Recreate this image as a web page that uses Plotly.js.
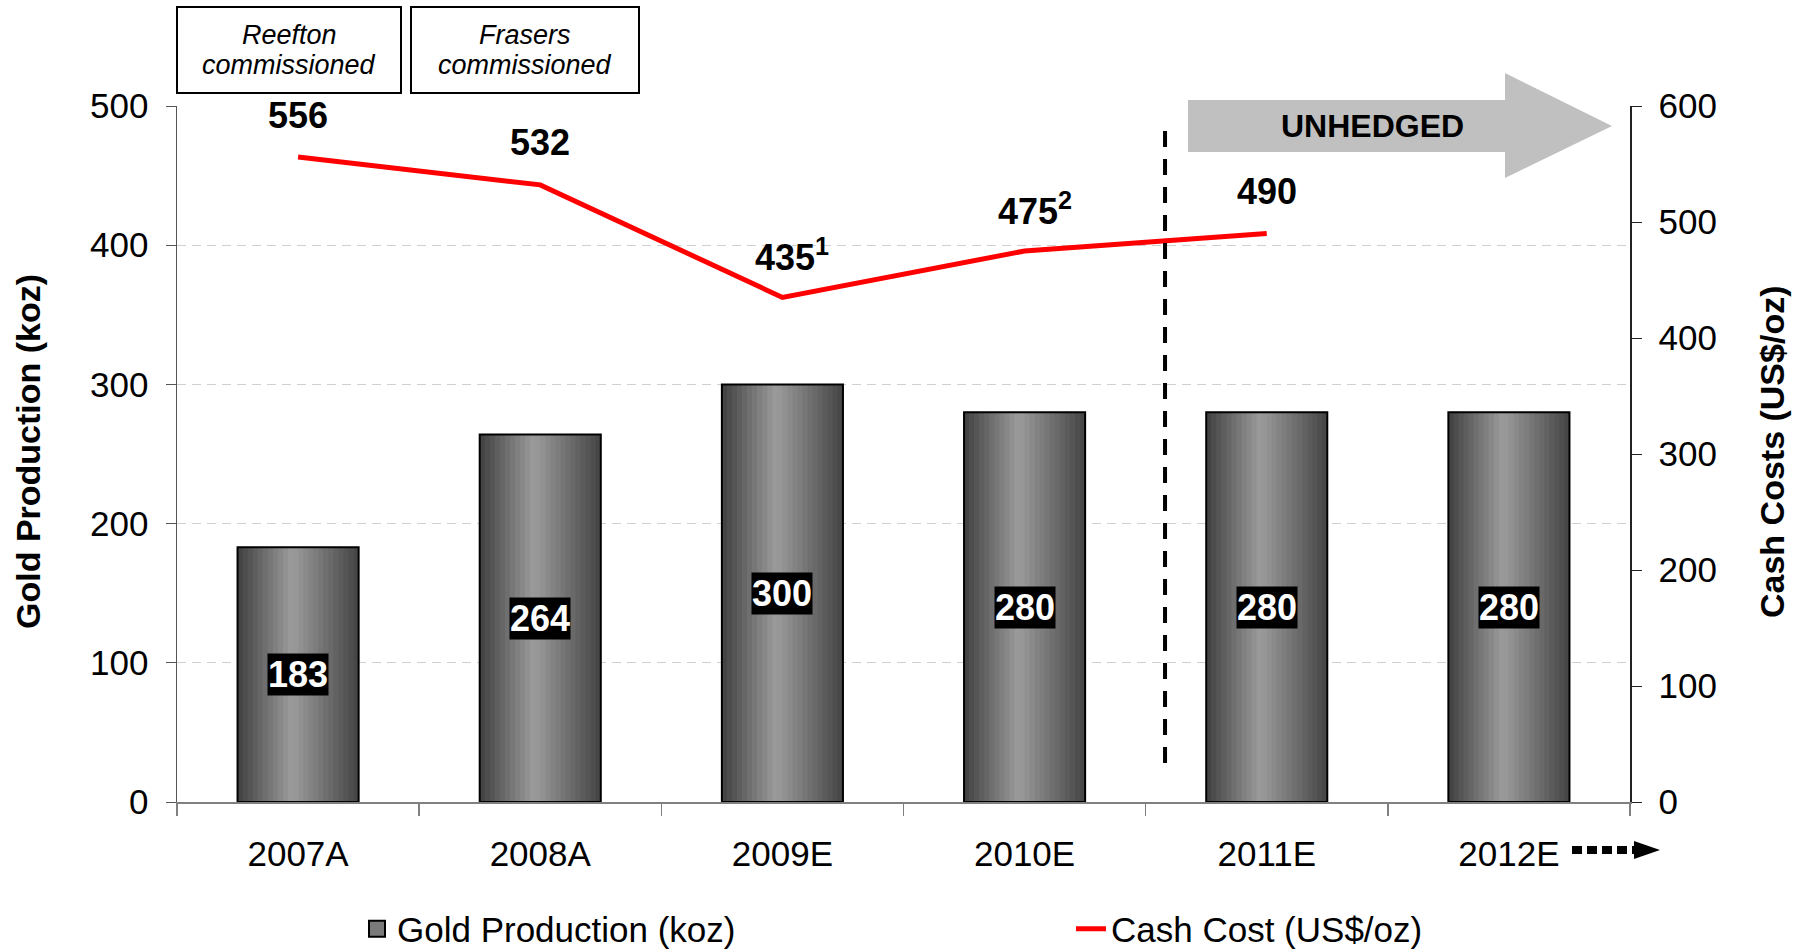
<!DOCTYPE html>
<html>
<head>
<meta charset="utf-8">
<script src="https://cdn.plot.ly/plotly-3.0.1.min.js"></script>
<style>
  html, body { margin: 0; padding: 0; background: #fff; }
  #chart { width: 1802px; height: 952px; }
</style>
</head>
<body>
<div id="chart"></div>
<script>
// data
const years = ["2007A", "2008A", "2009E", "2010E", "2011E", "2012E"];
const production = [183, 264, 300, 280, 280, 280];
const cashYears = ["2007A", "2008A", "2009E", "2010E", "2011E"];
const cashCost = [556, 532, 435, 475, 490];
const cashNotes = ["", "", "1", "2", ""];

const FONT = 'Arial, "Liberation Sans", sans-serif';

// plot area in pixels (used only for the decorations outside the data)
const W = 1802, H = 952;
const L = 177, R = 1630, T = 106, B = 802;
const px = p => (p - L) / (R - L);
const py = p => (B - p) / (B - T);

// bars: a horizontal grey gradient drawn as thin overlaid strips
const BAR_W = 0.5, STRIPS = 24;
function shade(t){
  const v = t < 0.45
    ? 0x40 + (0x9c - 0x40) * t / 0.45
    : 0x9c - (0x9c - 0x44) * (t - 0.45) / 0.55;
  const h = Math.round(v);
  return `rgb(${h},${h},${h})`;
}

const traces = [];
for (let i = 0; i < STRIPS; i++) {
  const w = BAR_W / STRIPS;
  traces.push({
    type: "bar",
    x: years,
    y: production,
    offset: -BAR_W / 2 + i * w,
    width: i === STRIPS - 1 ? w : w * 1.15,
    marker: { color: shade((i + 0.5) / STRIPS), line: { width: 0 } },
    showlegend: false,
    hoverinfo: "skip"
  });
}
// outline of each bar
traces.push({
  type: "bar",
  x: years,
  y: production,
  offset: -BAR_W / 2,
  width: BAR_W,
  marker: { color: "rgba(0,0,0,0)", line: { color: "#000", width: 2 } },
  showlegend: false,
  name: "Gold Production (koz)"
});
// legend entry for the bars
traces.push({
  type: "scatter",
  mode: "markers",
  x: [null],
  y: [null],
  name: "Gold Production (koz)",
  marker: { symbol: "square", size: 16, color: "#7a7a7a", line: { color: "#000", width: 2 } }
});
traces.push({
  type: "scatter",
  mode: "lines",
  x: cashYears,
  y: cashCost,
  yaxis: "y2",
  name: "Cash Cost (US$/oz)",
  line: { color: "#ff0000", width: 5 }
});

const annotations = [];
production.forEach((v, i) => {
  annotations.push({
    x: years[i], y: v / 2, xref: "x", yref: "y",
    xanchor: "center", yanchor: "middle",
    text: "<b>" + v + "</b>", showarrow: false,
    font: { family: FONT, size: 36, color: "#fff" },
    bgcolor: "#000", borderpad: 0
  });
});
cashCost.forEach((v, i) => {
  const note = cashNotes[i];
  annotations.push({
    x: cashYears[i], y: v, xref: "x", yref: "y2", yshift: 42,
    xanchor: "center", yanchor: "middle",
    xshift: note ? 10 : 0,
    text: "<b>" + v + (note ? "<sup>" + note + "</sup>" : "") + "</b>",
    showarrow: false,
    font: { family: FONT, size: 36, color: "#000" }
  });
});
// boxes at the top
const boxText = [["Reefton", "commissioned", 289], ["Frasers", "commissioned", 525]];
boxText.forEach(b => {
  [[b[0], 35], [b[1], 65]].forEach(line => {
    annotations.push({
      xref: "paper", yref: "paper", x: px(b[2]), y: py(line[1]),
      xanchor: "center", yanchor: "middle",
      text: "<i>" + line[0] + "</i>", showarrow: false,
      font: { family: FONT, size: 27, color: "#000" }
    });
  });
});
annotations.push({
  xref: "paper", yref: "paper", x: px(1372), y: py(126),
  xanchor: "center", yanchor: "middle",
  text: "<b>UNHEDGED</b>", showarrow: false,
  font: { family: FONT, size: 32, color: "#000" }
});
// axis titles
annotations.push({
  xref: "paper", yref: "paper", x: px(28), y: py(452),
  xanchor: "center", yanchor: "middle", textangle: -90,
  text: "<b>Gold Production (koz)</b>", showarrow: false,
  font: { family: FONT, size: 34, color: "#000" }
});
annotations.push({
  xref: "paper", yref: "paper", x: px(1772), y: py(452),
  xanchor: "center", yanchor: "middle", textangle: -90,
  text: "<b>Cash Costs (US$/oz)</b>", showarrow: false,
  font: { family: FONT, size: 34, color: "#000" }
});

const shapes = [
  { type: "rect", xref: "paper", yref: "paper", x0: px(177), x1: px(401), y0: py(93), y1: py(7),
    line: { color: "#000", width: 2 }, fillcolor: "#fff" },
  { type: "rect", xref: "paper", yref: "paper", x0: px(411), x1: px(639), y0: py(93), y1: py(7),
    line: { color: "#000", width: 2 }, fillcolor: "#fff" },
  { type: "path", xref: "paper", yref: "paper", layer: "below",
    path: `M${px(1188)},${py(100)} L${px(1505)},${py(100)} L${px(1505)},${py(73)} L${px(1612)},${py(126)} ` +
          `L${px(1505)},${py(178)} L${px(1505)},${py(152)} L${px(1188)},${py(152)} Z`,
    fillcolor: "#c0c0c0", line: { width: 0 } },
  { type: "line", xref: "x", yref: "y", x0: 3.58, x1: 3.58, y0: 28, y1: 482,
    line: { color: "#000", width: 4, dash: "16px,12px" } },
  { type: "line", xref: "paper", yref: "paper", x0: px(1572), x1: px(1636), y0: py(850), y1: py(850),
    line: { color: "#000", width: 8, dash: "10px,5px" } },
  { type: "path", xref: "paper", yref: "paper",
    path: `M${px(1634)},${py(841)} L${px(1660)},${py(850)} L${px(1634)},${py(859)} Z`,
    fillcolor: "#000", line: { width: 0 } }
];

Plotly.newPlot("chart", traces, {
  width: W,
  height: H,
  margin: { l: L, r: W - R, t: T, b: H - B },
  paper_bgcolor: "#fff",
  plot_bgcolor: "#fff",
  font: { family: FONT, size: 33, color: "#000" },
  barmode: "overlay",
  hovermode: false,
  showlegend: true,
  legend: {
    orientation: "h",
    xref: "container", yref: "container",
    x: 357 / W, xanchor: "left",
    y: 1 - 929 / H, yanchor: "middle",
    font: { family: FONT, size: 35, color: "#000" },
    entrywidth: 669,
    traceorder: "normal",
    bgcolor: "rgba(0,0,0,0)"
  },
  xaxis: {
    type: "category",
    categoryorder: "array",
    categoryarray: years,
    range: [-0.5, 5.5],
    automargin: false,
    showline: true, linecolor: "#808080", linewidth: 2,
    ticks: "outside", tickson: "boundaries", ticklen: 12, tickcolor: "#808080", tickwidth: 1.5,
    ticklabelstandoff: 20,
    tickfont: { family: FONT, size: 35, color: "#000" },
    showgrid: false, zeroline: false
  },
  yaxis: {
    range: [0, 500], tick0: 0, dtick: 100,
    automargin: false,
    showline: true, linecolor: "#555", linewidth: 1.5,
    ticks: "outside", ticklen: 10, tickcolor: "#555",
    ticklabelstandoff: 10,
    tickfont: { family: FONT, size: 35, color: "#000" },
    showgrid: true, gridcolor: "#d0d0d0", gridwidth: 1, griddash: "9px,6px",
    zeroline: false
  },
  yaxis2: {
    overlaying: "y", side: "right",
    range: [0, 600], tick0: 0, dtick: 100,
    automargin: false,
    showline: true, linecolor: "#222", linewidth: 1.5,
    ticks: "outside", ticklen: 10, tickcolor: "#222",
    ticklabelstandoff: 10,
    tickfont: { family: FONT, size: 35, color: "#000" },
    showgrid: false, zeroline: false
  },
  shapes: shapes,
  annotations: annotations
}, { displayModeBar: false, staticPlot: true });
</script>
</body>
</html>
